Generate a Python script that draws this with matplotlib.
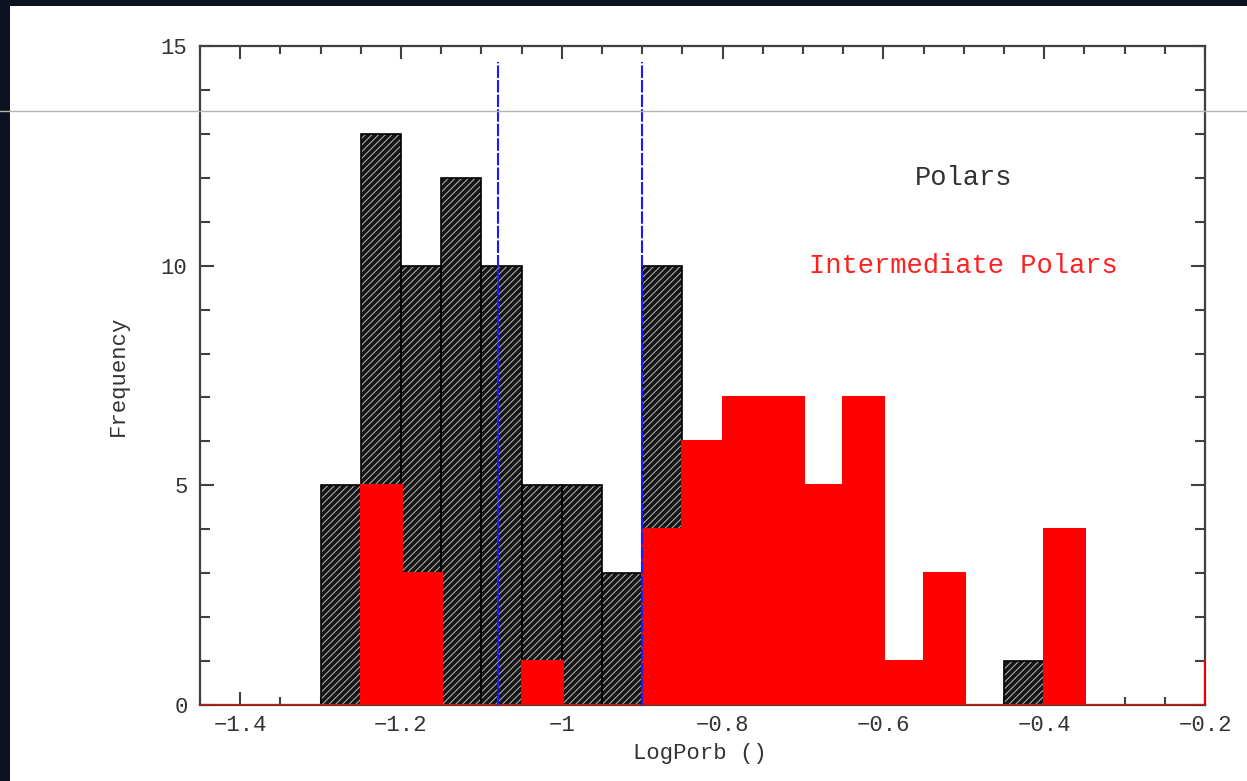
#!/usr/bin/env python3
"""
Histogramm der Umlaufperioden (LogPorb) von Polars und Intermediate Polars.
"""

import numpy as np
import matplotlib.pyplot as plt
from matplotlib.lines import Line2D
from matplotlib.patches import Rectangle
from matplotlib.ticker import MultipleLocator

# ----------------------------------------------------------------------------
# Daten: Bins der Breite 0.05 von -1.45 bis -0.15
# ----------------------------------------------------------------------------
bin_edges = [-1.45, -1.40, -1.35, -1.30, -1.25, -1.20, -1.15, -1.10, -1.05,
             -1.00, -0.95, -0.90, -0.85, -0.80, -0.75, -0.70, -0.65, -0.60,
             -0.55, -0.50, -0.45, -0.40, -0.35, -0.30, -0.25, -0.20, -0.15]

polars = [0, 0, 0, 5, 13, 10, 12, 10, 5, 5, 3, 10, 0, 0, 0, 0, 0, 0,
          0, 0, 1, 0, 0, 0, 0, 0]

intermediate_polars = [0, 0, 0, 0, 5, 3, 0, 0, 1, 0, 0, 4, 6, 7, 7, 5, 7, 1,
                       3, 0, 0, 4, 0, 0, 0, 1]

gap_lines = [-1.079, -0.90]   # Grenzen der Periodenluecke
gap_top = 14.64

label_polars = 'Polars'
label_ips = 'Intermediate Polars'

# ----------------------------------------------------------------------------
plt.rcParams['font.family'] = ['Liberation Mono', 'DejaVu Sans Mono']
plt.rcParams['hatch.linewidth'] = 0.8
TXT = '#333333'
AXC = '#404040'

fig = plt.figure(figsize=(12.47, 7.81), dpi=100)
fig.patch.set_facecolor('#0c1220')

# weisses Panel vor dunklem Hintergrund
fig.add_artist(Rectangle((10 / 1247, 0), 1 - 10 / 1247, 1 - 6 / 781,
                         transform=fig.transFigure, facecolor='white',
                         edgecolor='none', zorder=0))

ax = fig.add_axes([200 / 1247, 1 - 705 / 781, 1005 / 1247, 659 / 781])
ax.set_facecolor('white')

edges = np.array(bin_edges)
lefts = edges[:-1]
widths = np.diff(edges)

# Polars: schraffierte Balken
ax.bar(lefts, polars, width=widths, align='edge', facecolor='#151515',
       edgecolor='#a8a8a8', hatch='/////', linewidth=0, zorder=2)
ax.bar(lefts, polars, width=widths, align='edge', fill=False,
       edgecolor='black', linewidth=1.2, zorder=2.1)

# Intermediate Polars: rote Balken + Umriss
ax.bar(lefts, intermediate_polars, width=widths, align='edge',
       color='#ff0000', edgecolor='none', zorder=3)
ax.stairs(intermediate_polars, edges, color='#ff0000', linewidth=2.2,
          baseline=0, zorder=3.1)

# Periodenluecke
for xv in gap_lines:
    ax.plot([xv, xv], [0, gap_top], color='#1a1aff', linewidth=1.5,
            linestyle=(0, (6, 1)), zorder=4)

ax.text(-0.50, 12.0, label_polars, color=TXT, fontsize=19.5,
        ha='center', va='center')
ax.text(-0.50, 10.0, label_ips, color='#ff2020', fontsize=19.5,
        ha='center', va='center')

ax.set_xlim(-1.45, -0.2)
ax.set_ylim(0, 15)

ax.xaxis.set_major_locator(MultipleLocator(0.2))
ax.xaxis.set_minor_locator(MultipleLocator(0.05))
ax.yaxis.set_major_locator(MultipleLocator(5))
ax.yaxis.set_minor_locator(MultipleLocator(1))
ax.xaxis.set_major_formatter(lambda v, p: ('%g' % round(v, 2)).replace('-', '\u2212'))

ax.tick_params(which='both', direction='in', top=True, right=True,
               color=AXC, width=1.5, labelcolor=TXT, labelsize=16)
ax.tick_params(axis='x', which='major', length=9.5, pad=7)
ax.tick_params(axis='x', which='minor', length=6)
ax.tick_params(axis='y', which='major', length=10, pad=9)
ax.tick_params(axis='y', which='minor', length=7)

for sp in ax.spines.values():
    sp.set_color(AXC)
    sp.set_linewidth(1.6)

ax.set_xlabel('LogPorb ()', fontsize=16, color=TXT, va='center')
ax.set_ylabel('Frequency', fontsize=16, color=TXT, va='center')
ax.xaxis.set_label_coords(0.4975, -48 / 659)
ax.yaxis.set_label_coords(-82 / 1005, 0.5)

# duenne graue Linie quer durchs Bild
fig.add_artist(Line2D([0, 1], [1 - 111 / 781, 1 - 111 / 781],
                      transform=fig.transFigure, color='#b4b4b4',
                      linewidth=1.0, zorder=10))

fig.savefig('out.png', dpi=100, facecolor=fig.get_facecolor())
